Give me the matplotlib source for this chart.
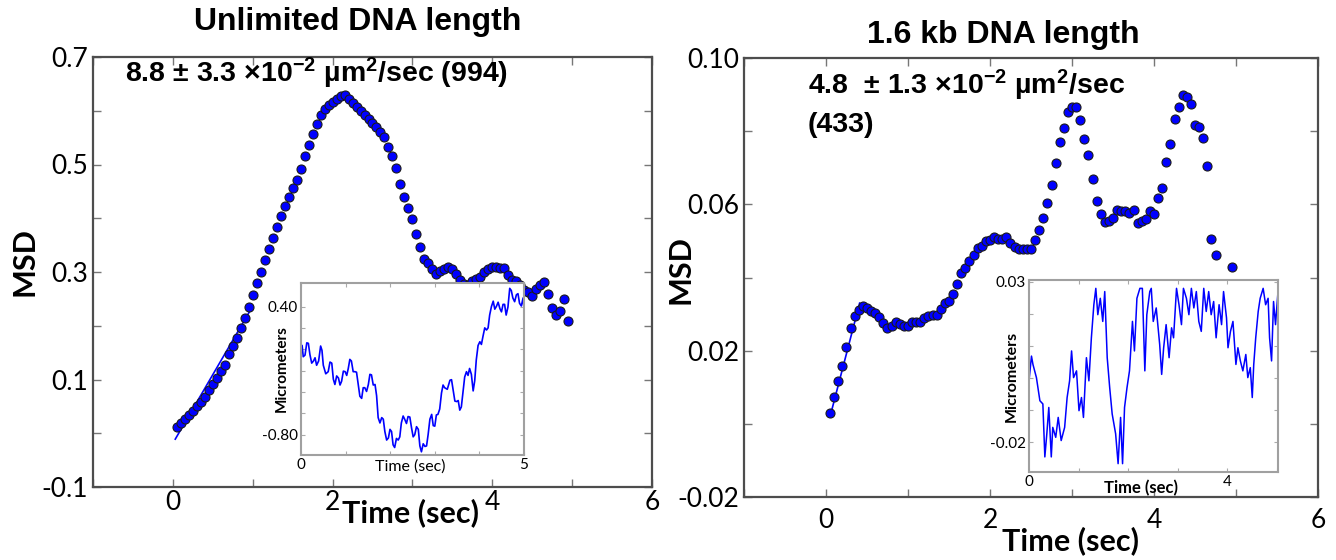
import numpy as np
import matplotlib
matplotlib.use('Agg')
import matplotlib.pyplot as plt

# MSD curves, sampled every 0.05 sec
msd_time = np.arange(1, 100) * 0.05

msd_unlimited = [
    0.011, 0.019, 0.026, 0.034, 0.041, 0.050, 0.058, 0.067, 0.081, 0.092,
    0.103, 0.116, 0.127, 0.148, 0.162, 0.178, 0.196, 0.215, 0.235, 0.257,
    0.280, 0.300, 0.322, 0.343, 0.364, 0.384, 0.404, 0.423, 0.440, 0.456,
    0.472, 0.492, 0.515, 0.536, 0.556, 0.575, 0.592, 0.603, 0.611, 0.616,
    0.622, 0.627, 0.629, 0.621, 0.614, 0.607, 0.600, 0.593, 0.585, 0.577,
    0.570, 0.561, 0.551, 0.533, 0.515, 0.493, 0.463, 0.440, 0.419, 0.398,
    0.371, 0.346, 0.325, 0.316, 0.305, 0.296, 0.301, 0.306, 0.309, 0.305,
    0.296, 0.285, 0.278, 0.276, 0.283, 0.287, 0.290, 0.300, 0.306, 0.309,
    0.309, 0.308, 0.307, 0.294, 0.285, 0.283, 0.275, 0.266, 0.262, 0.255,
    0.268, 0.276, 0.281, 0.260, 0.233, 0.220, 0.228, 0.250, 0.208,
]

msd_16kb = [
    0.0029, 0.0073, 0.0116, 0.0158, 0.0211, 0.0262, 0.0294, 0.0311, 0.0322, 0.0316,
    0.0309, 0.0302, 0.0291, 0.0275, 0.0261, 0.0268, 0.0278, 0.0272, 0.0268, 0.0268,
    0.0278, 0.0279, 0.0279, 0.0289, 0.0296, 0.0298, 0.0298, 0.0313, 0.0331, 0.0337,
    0.0354, 0.0382, 0.0412, 0.0425, 0.0446, 0.0462, 0.0482, 0.0487, 0.0499, 0.0503,
    0.0512, 0.0506, 0.0504, 0.0512, 0.0495, 0.0483, 0.0477, 0.0479, 0.0479, 0.0479,
    0.0503, 0.0530, 0.0563, 0.0605, 0.0654, 0.0712, 0.0770, 0.0810, 0.0852, 0.0867,
    0.0867, 0.0831, 0.0778, 0.0734, 0.0668, 0.0610, 0.0574, 0.0553, 0.0554, 0.0563,
    0.0585, 0.0583, 0.0581, 0.0576, 0.0585, 0.0550, 0.0554, 0.0559, 0.0582, 0.0574,
    0.0617, 0.0645, 0.0715, 0.0764, 0.0832, 0.0865, 0.0899, 0.0893, 0.0874, 0.0817,
    0.0811, 0.0781, 0.0705, 0.0506, 0.0461, np.nan, np.nan, np.nan, 0.0428,
]

# linear fits drawn over the first points
fit_unlimited_t = [0.03, 0.99]
fit_unlimited_v = [-0.011, 0.234]
fit_16kb_t = [0.05, 0.41]
fit_16kb_v = [0.002, 0.033]

# inset traces (micrometers vs time)
trace_unlimited_t = [
    0.00, 0.025, 0.05, 0.09, 0.13, 0.165, 0.20, 0.24, 0.28, 0.315,
    0.35, 0.395, 0.44, 0.47, 0.50, 0.555, 0.61, 0.65, 0.69, 0.725,
    0.76, 0.80, 0.84, 0.875, 0.91, 0.95, 0.99, 1.025, 1.06, 1.095,
    1.13, 1.17, 1.21, 1.245, 1.28, 1.32, 1.36, 1.395, 1.43, 1.47,
    1.51, 1.545, 1.58, 1.62, 1.66, 1.695, 1.73, 1.77, 1.81, 1.845,
    1.88, 1.92, 1.96, 1.995, 2.03, 2.065, 2.10, 2.14, 2.18, 2.215,
    2.25, 2.29, 2.33, 2.365, 2.40, 2.44, 2.48, 2.515, 2.55, 2.59,
    2.63, 2.665, 2.70, 2.74, 2.78, 2.815, 2.85, 2.89, 2.93, 2.965,
    3.00, 3.035, 3.07, 3.11, 3.15, 3.185, 3.22, 3.28, 3.34, 3.375,
    3.41, 3.45, 3.49, 3.525, 3.56, 3.595, 3.63, 3.67, 3.71, 3.745,
    3.78, 3.82, 3.86, 3.895, 3.93, 3.97, 4.01, 4.045, 4.08, 4.12,
    4.16, 4.195, 4.23, 4.27, 4.31, 4.345, 4.38, 4.42, 4.46, 4.495,
    4.53, 4.565, 4.60, 4.64, 4.68, 4.715, 4.75, 4.79, 4.83, 4.865,
    4.90, 4.94, 4.98, 5.00,
]
trace_unlimited_v = [
    0.04, 0.035, -0.07, -0.055, 0.06, 0.055, -0.05, -0.13, -0.11, -0.08,
    -0.15, -0.11, 0.03, -0.01, -0.15, -0.23, -0.21, -0.12, -0.13, -0.28,
    -0.33, -0.25, -0.27, -0.335, -0.30, -0.205, -0.21, -0.245, -0.18, -0.095,
    -0.11, -0.21, -0.21, -0.215, -0.32, -0.44, -0.46, -0.36, -0.36, -0.395,
    -0.33, -0.235, -0.24, -0.335, -0.33, -0.435, -0.64, -0.69, -0.64, -0.655,
    -0.77, -0.85, -0.83, -0.75, -0.77, -0.895, -0.92, -0.835, -0.85, -0.82,
    -0.69, -0.625, -0.66, -0.695, -0.63, -0.635, -0.74, -0.82, -0.80, -0.725,
    -0.75, -0.905, -0.96, -0.885, -0.91, -0.905, -0.80, -0.655, -0.61, -0.715,
    -0.72, -0.615, -0.61, -0.56, -0.41, -0.335, -0.36, -0.375, -0.29, -0.285,
    -0.38, -0.485, -0.49, -0.48, -0.57, -0.54, -0.41, -0.26, -0.21, -0.245,
    -0.18, -0.235, -0.39, -0.295, -0.10, 0.035, 0.07, 0.045, 0.12, 0.20,
    0.18, 0.20, 0.32, 0.40, 0.45, 0.375, 0.40, 0.44, 0.38, 0.35,
    0.42, 0.42, 0.32, 0.395, 0.57, 0.55, 0.48, 0.445, 0.51, 0.52,
    0.43, 0.405, 0.48, 0.38,
]

trace_16kb_t = [
    0.00, 0.05, 0.08, 0.15, 0.22, 0.28, 0.32, 0.36, 0.40, 0.45,
    0.48, 0.54, 0.59, 0.65, 0.72, 0.77, 0.82, 0.86, 0.90, 0.96,
    1.01, 1.06, 1.10, 1.16, 1.21, 1.26, 1.31, 1.35, 1.39, 1.44,
    1.49, 1.53, 1.58, 1.63, 1.68, 1.75, 1.80, 1.85, 1.89, 1.93,
    1.98, 2.03, 2.09, 2.13, 2.18, 2.24, 2.29, 2.34, 2.38, 2.44,
    2.47, 2.51, 2.57, 2.64, 2.68, 2.72, 2.77, 2.83, 2.88, 2.92,
    2.98, 3.03, 3.08, 3.12, 3.18, 3.23, 3.28, 3.33, 3.38, 3.43,
    3.48, 3.53, 3.58, 3.63, 3.68, 3.73, 3.78, 3.84, 3.89, 3.93,
    3.99, 4.02, 4.07, 4.12, 4.18, 4.22, 4.27, 4.32, 4.38, 4.42,
    4.47, 4.51, 4.54, 4.58, 4.63, 4.67, 4.73, 4.78, 4.83, 4.86,
    4.90, 4.94, 4.98, 5.03,
]
trace_16kb_v = [
    -0.0009, 0.0068, 0.0042, 0.0001, -0.0071, -0.0081, -0.0246, -0.0174, -0.0092, -0.0246,
    -0.0154, -0.0185, -0.0123, -0.0195, -0.0154, -0.0061, -0.0009, 0.0084, 0.0001, 0.0022,
    -0.0102, -0.0061, -0.0123, 0.0063, -0.0009, 0.0125, 0.0228, 0.0279, 0.0197, 0.0248,
    0.0176, 0.0269, 0.0063, -0.0030, -0.0112, -0.0174, -0.0267, -0.0123, -0.0267, -0.0092,
    -0.0030, 0.0022, 0.0176, 0.0084, 0.0248, 0.0279, 0.0279, 0.0022, 0.0197, 0.0269,
    0.0279, 0.0176, 0.0218, 0.0104, 0.0011, 0.0094, 0.0166, 0.0063, 0.0156, 0.0125,
    0.0279, 0.0228, 0.0166, 0.0279, 0.0248, 0.0197, 0.0279, 0.0218, 0.0269, 0.0176,
    0.0145, 0.0279, 0.0207, 0.0269, 0.0197, 0.0238, 0.0125, 0.0228, 0.0166, 0.0269,
    0.0187, 0.0094, 0.0145, 0.0176, 0.0042, 0.0094, 0.0053, 0.0022, 0.0073, 0.0001,
    0.0032, -0.0061, 0.0042, 0.0125, 0.0207, 0.0248, 0.0279, 0.0228, 0.0248, 0.0125,
    0.0053, 0.0238, 0.0166, 0.0269,
]

x_ticks = [-1, 0, 1, 2, 3, 4, 5, 6]
x_ticklabels = ['', '0', '', '2', '', '4', '', '6']
y_ticks_unlimited = [-0.1, 0.0, 0.1, 0.2, 0.3, 0.4, 0.5, 0.6, 0.7]
y_ticklabels_unlimited = ['-0.1', '', '0.1', '', '0.3', '', '0.5', '', '0.7']
y_ticks_16kb = [-0.02, 0.0, 0.02, 0.04, 0.06, 0.08, 0.10]
y_ticklabels_16kb = ['-0.02', '', '0.02', '', '0.06', '', '0.10']

TICK_FONT = ['Lato', 'DejaVu Sans']
HEAD_FONT = ['Liberation Sans', 'DejaVu Sans']
plt.rcParams['mathtext.fontset'] = 'custom'
plt.rcParams['mathtext.rm'] = 'Liberation Sans:bold'
plt.rcParams['mathtext.default'] = 'rm'

W, H = 1336, 560

fig = plt.figure(figsize=(W / 100, H / 100), dpi=100)
fig.patch.set_facecolor('white')


def fx(px):
    return px / W


def fy(py):
    return 1 - py / H


def style_main(ax):
    for s in ax.spines.values():
        s.set_color('#4d4d4d')
        s.set_linewidth(1.6)
    ax.tick_params(direction='in', length=6, width=1, color='#777777',
                   top=True, right=True, labelsize=19)
    for lab in ax.get_xticklabels() + ax.get_yticklabels():
        lab.set_family(TICK_FONT)


def style_inset(ax):
    for s in ax.spines.values():
        s.set_color('#a0a0a0')
        s.set_linewidth(1.5)
    ax.tick_params(direction='in', length=3, width=0.8, color='#aaaaaa',
                   top=True, right=True, labelsize=11, pad=2)
    for lab in ax.get_xticklabels() + ax.get_yticklabels():
        lab.set_family(TICK_FONT)


def draw_msd(ax, values, fit_t, fit_v):
    ax.plot(fit_t, fit_v, color='#0000ff', lw=1.2, zorder=2)
    ax.plot(msd_time, values, ls='none', marker='o', ms=6.5,
            mfc='#0000ff', mec='#1a1a1a', mew=0.8, zorder=3)


# left panel
ax1 = fig.add_axes([fx(93), fy(487), fx(652 - 93), (487 - 57) / H])
draw_msd(ax1, msd_unlimited, fit_unlimited_t, fit_unlimited_v)
ax1.set_xlim(-1, 6)
ax1.set_ylim(-0.1, 0.7)
ax1.set_xticks(x_ticks)
ax1.set_xticklabels(x_ticklabels)
ax1.set_yticks(y_ticks_unlimited)
ax1.set_yticklabels(y_ticklabels_unlimited)
style_main(ax1)
ax1.tick_params(axis='x', pad=2)

# right panel
ax2 = fig.add_axes([fx(744), fy(497), fx(1318 - 744), (497 - 58) / H])
draw_msd(ax2, msd_16kb, fit_16kb_t, fit_16kb_v)
ax2.set_xlim(-1, 6)
ax2.set_ylim(-0.02, 0.10)
ax2.set_xticks(x_ticks)
ax2.set_xticklabels(x_ticklabels)
ax2.set_yticks(y_ticks_16kb)
ax2.set_yticklabels(y_ticklabels_16kb)
style_main(ax2)
ax2.tick_params(axis='x', pad=8)

# insets
in1 = fig.add_axes([fx(301), fy(455), fx(524 - 301), (455 - 283) / H])
in1.plot(trace_unlimited_t, trace_unlimited_v, color='#0000ff', lw=1.2)
in1.set_xlim(0, 5)
in1.set_ylim(-0.99, 0.62)
in1.set_xticks([0, 1, 2, 3, 4, 5])
in1.set_xticklabels(['0', '', '', '', '', '5'])
in1.set_yticks([-0.8, -0.6, -0.4, -0.2, 0.0, 0.2, 0.4])
in1.set_yticklabels(['-0.80', '', '', '', '', '', '0.40'])
style_inset(in1)

in2 = fig.add_axes([fx(1029), fy(472), fx(1278 - 1029), (472 - 280) / H])
in2.plot(trace_16kb_t, trace_16kb_v, color='#0000ff', lw=1.1)
in2.set_xlim(0, 5.03)
in2.set_ylim(-0.0293, 0.0305)
in2.set_xticks([0, 1, 2, 3, 4, 5])
in2.set_xticklabels(['0', '', '', '', '4', ''])
in2.set_yticks([-0.02, -0.01, 0.0, 0.01, 0.02, 0.03])
in2.set_yticklabels(['-0.02', '', '', '', '', '0.03'])
style_inset(in2)

# titles, labels, annotations
fig.text(fx(358), fy(22), 'Unlimited DNA length', ha='center', va='center',
         fontsize=23, fontweight='bold', family=HEAD_FONT)
fig.text(fx(1003), fy(35), '1.6 kb DNA length', ha='center', va='center',
         fontsize=23, fontweight='bold', family=HEAD_FONT)

fig.text(fx(125), fy(73), '8.8 ± 3.3 ×10$^{-2}$ µm$^{2}$/sec (994)', ha='left',
         va='center', fontsize=20.5, fontweight='bold', family=HEAD_FONT)
fig.text(fx(808), fy(85), '4.8  ± 1.3 ×10$^{-2}$ µm$^{2}$/sec', ha='left',
         va='center', fontsize=20.5, fontweight='bold', family=HEAD_FONT)
fig.text(fx(808), fy(125), '(433)', ha='left', va='center',
         fontsize=20.5, fontweight='bold', family=HEAD_FONT)

fig.text(fx(25), fy(262), 'MSD', rotation=90, ha='center', va='center',
         fontsize=22, fontweight='bold', family=TICK_FONT)
fig.text(fx(680), fy(270), 'MSD', rotation=90, ha='center', va='center',
         fontsize=22, fontweight='bold', family=TICK_FONT)
fig.text(fx(411), fy(513), 'Time (sec)', ha='center', va='center',
         fontsize=22, fontweight='bold', family=TICK_FONT)
fig.text(fx(1071), fy(541), 'Time (sec)', ha='center', va='center',
         fontsize=22, fontweight='bold', family=TICK_FONT)

fig.text(fx(282), fy(369), 'Micrometers', rotation=90, ha='center', va='center',
         fontsize=11, fontweight='bold', family=TICK_FONT)
fig.text(fx(1012), fy(376), 'Micrometers', rotation=90, ha='center', va='center',
         fontsize=11.5, fontweight='bold', family=TICK_FONT)
fig.text(fx(410), fy(467), 'Time (sec)', ha='center', va='center',
         fontsize=11.5, family=TICK_FONT)
fig.text(fx(1141), fy(488), 'Time (sec)', ha='center', va='center',
         fontsize=12, fontweight='bold', family=TICK_FONT)

fig.savefig('out.png', dpi=100, facecolor='white')
